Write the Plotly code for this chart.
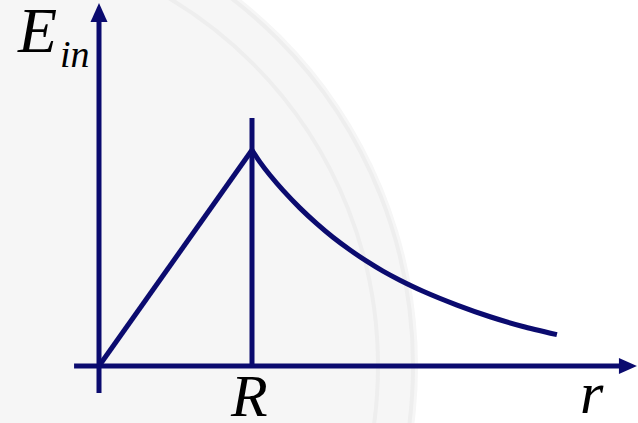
import plotly.graph_objects as go

# Field profile: linear rise inside the sphere (r < R), decay outside
r_inside = [0.0, 1.0]
E_inside = [0.0, 1.0]

r_outside = [1.0, 1.052, 1.118, 1.203, 1.314, 1.425, 1.529, 1.641, 1.752, 1.856,
             1.967, 2.118, 2.340, 2.556, 2.771, 2.993]
E_outside = [1.0, 0.944, 0.883, 0.813, 0.731, 0.658, 0.596, 0.537, 0.484, 0.439,
             0.397, 0.346, 0.282, 0.228, 0.183, 0.145]

R_mark = 1.0
axis_labels = {"E": "E", "sub": "in", "R": "R", "r": "r"}

W, H = 638, 423
NAVY = "#0b0b6f"
LW = 5

x_range = [-0.6471, 3.5229]
y_range = [-0.2639, 1.6944]

fig = go.Figure()

fig.add_trace(go.Scatter(x=r_inside, y=E_inside, mode="lines",
                         line=dict(color=NAVY, width=LW), hoverinfo="skip"))
fig.add_trace(go.Scatter(x=r_outside, y=E_outside, mode="lines",
                         line=dict(color=NAVY, width=LW, shape="spline", smoothing=0.6),
                         hoverinfo="skip"))


def seal(radius, **kw):
    cx, cy = -50, 366
    return dict(type="circle", xref="paper", yref="paper", layer="below",
                x0=(cx - radius) / W, x1=(cx + radius) / W,
                y0=1 - (cy + radius) / H, y1=1 - (cy - radius) / H, **kw)


shapes = [
    # faint circular seal in the background
    seal(468, fillcolor="#f6f6f6", line=dict(width=0)),
    seal(463, fillcolor="rgba(0,0,0,0)", line=dict(color="#eeeeee", width=4)),
    seal(428, fillcolor="rgba(0,0,0,0)", line=dict(color="#eeeeee", width=4)),
    # horizontal axis
    dict(type="line", xref="x", yref="y", x0=-0.163, x1=3.42, y0=0, y1=0,
         line=dict(color=NAVY, width=LW)),
    dict(type="path", xref="x", yref="y", xsizemode="pixel", ysizemode="pixel",
         xanchor=3.516, yanchor=0, path="M 0 0 L -18 8 L -18 -8 Z",
         fillcolor=NAVY, line=dict(width=0)),
    # vertical axis
    dict(type="line", xref="x", yref="y", x0=0, x1=0, y0=-0.125, y1=1.6,
         line=dict(color=NAVY, width=LW)),
    dict(type="path", xref="x", yref="y", xsizemode="pixel", ysizemode="pixel",
         xanchor=0, yanchor=1.681, path="M 0 0 L -8.5 -19 L 8.5 -19 Z",
         fillcolor=NAVY, line=dict(width=0)),
    # marker at r = R
    dict(type="line", xref="x", yref="y", x0=R_mark, x1=R_mark, y0=0, y1=1.148,
         line=dict(color=NAVY, width=LW)),
]

FONT = "Liberation Serif"


def ann(text, px, py, size):
    return dict(text=text, xref="paper", yref="paper",
                x=px / W, y=1 - py / H, xanchor="center", yanchor="middle",
                showarrow=False,
                font=dict(family=FONT, size=size, color="black", style="italic"))


annotations = [
    ann(axis_labels["E"], 37, 31, 64),
    ann(axis_labels["sub"], 75, 54, 38),
    ann(axis_labels["R"], 249, 396, 60),
    ann(axis_labels["r"], 592, 393, 60),
]

fig.update_layout(
    width=W, height=H,
    margin=dict(l=0, r=0, t=0, b=0),
    paper_bgcolor="white", plot_bgcolor="rgba(0,0,0,0)",
    showlegend=False,
    xaxis=dict(range=x_range, visible=False, fixedrange=True),
    yaxis=dict(range=y_range, visible=False, fixedrange=True),
    shapes=shapes, annotations=annotations,
)

fig.write_html("out.html", config={"displayModeBar": False})
